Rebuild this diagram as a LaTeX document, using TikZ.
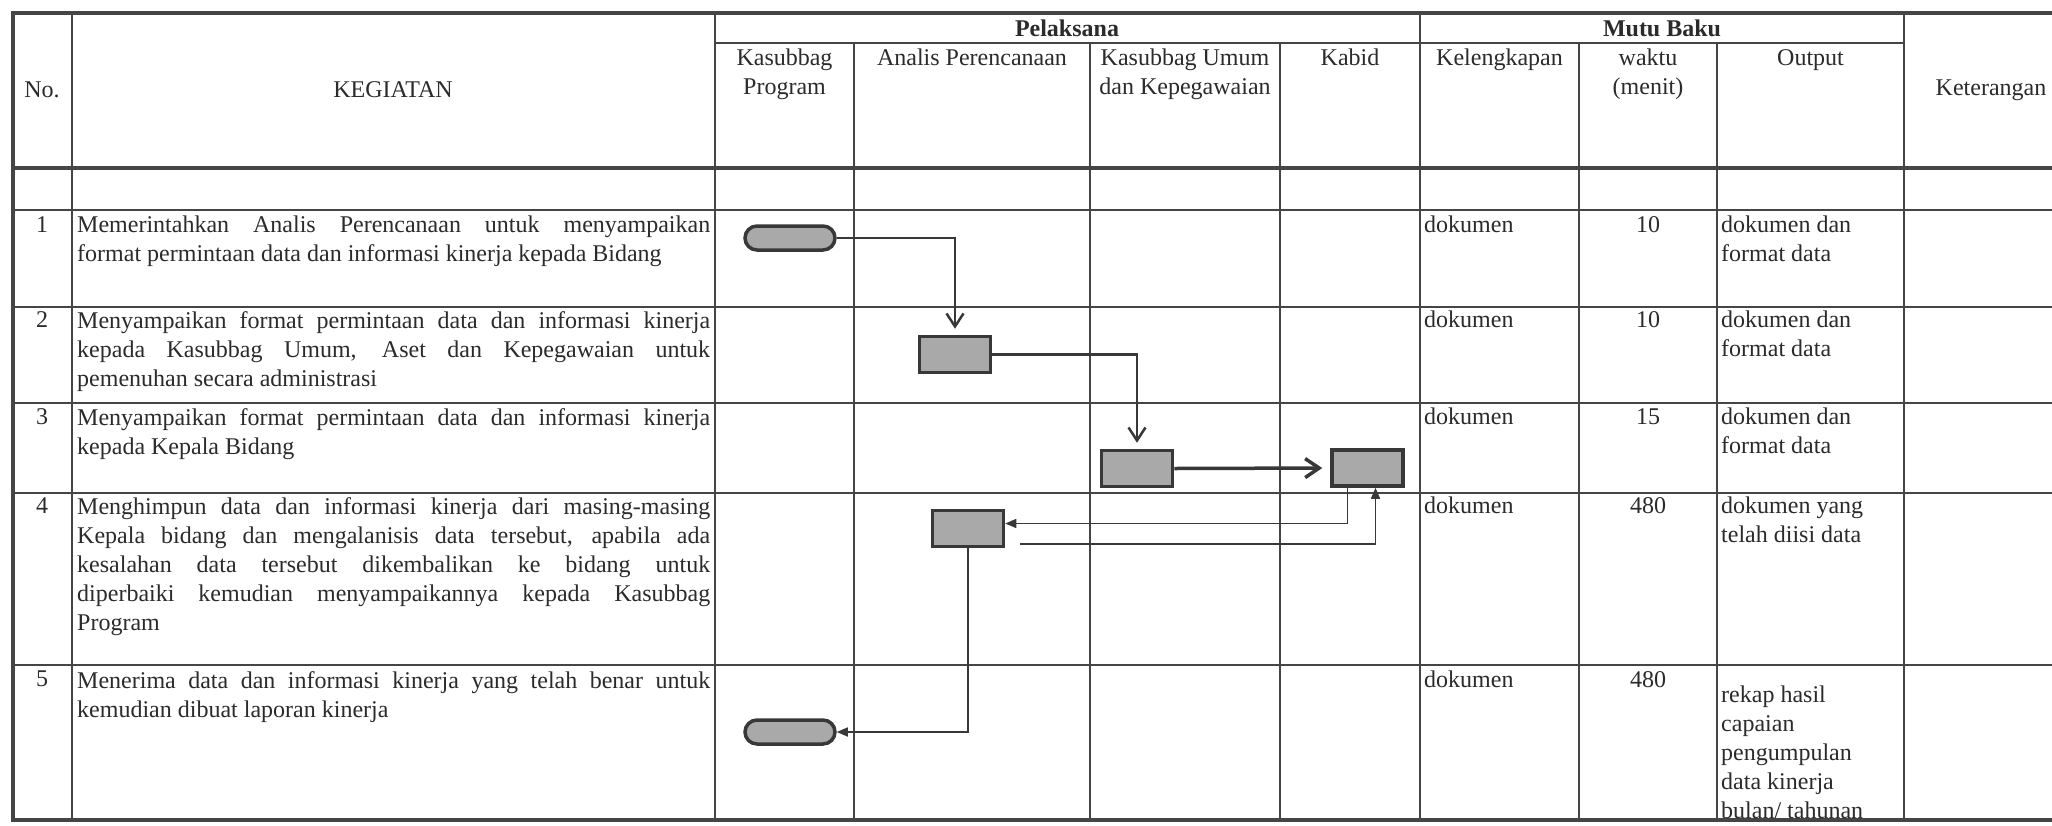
\documentclass[tikz,border=0pt]{standalone}
\usepackage{fontspec}
\setmainfont{Liberation Serif}
\usetikzlibrary{arrows.meta}
\definecolor{grid}{HTML}{454545}
\definecolor{ink}{HTML}{2B2B2B}
\definecolor{boxfill}{HTML}{A9A9A9}
\definecolor{boxline}{HTML}{383838}
\tolerance=10000 \hbadness=10000
\hyphenpenalty=10000 \exhyphenpenalty=10000
\parindent=0pt
\tikzset{
  tline/.style={draw=grid, line width=2pt},
  tthick/.style={draw=grid, line width=4pt},
  proc/.style={draw=boxline, fill=boxfill, line width=3.5pt, minimum width=71pt, minimum height=36pt},
  term/.style={draw=boxline, fill=boxfill, line width=3.5pt, minimum width=90pt, minimum height=24pt, rounded corners=12pt},
  flow/.style={draw=boxline, line width=2.5pt, -{Straight Barb[length=13pt,width=17pt]}, shorten >=6pt},
  retur/.style={draw=boxline, line width=1.5pt, -{Triangle[length=11pt,width=9pt]}},
  kegtext/.style={anchor=north west, text width=633pt, align=justify},
  celltext/.style={anchor=north west, align=left},
}

\begin{document}
\begin{tikzpicture}[x=1pt, y=-1pt,
  every node/.style={font=\fontsize{24}{29}\selectfont, text=ink, inner sep=0pt}]
  \fill[white] (0,0) rectangle (2052,825);
  \useasboundingbox (0,0) rectangle (2052,825);
  % Table rules
  \draw[tthick] (13,13) -- (2080,13);
  \draw[tline] (715,43) -- (1904,43);
  \draw[tthick] (13,168) -- (2080,168);
  \draw[tline] (13,210) -- (2080,210);
  \draw[tline] (13,307) -- (2080,307);
  \draw[tline] (13,403) -- (2080,403);
  \draw[tline] (13,493) -- (2080,493);
  \draw[tline] (13,665) -- (2080,665);
  \draw[tthick] (13,820) -- (2080,820);
  \draw[tthick] (13,11) -- (13,822);
  \draw[tline] (72,13) -- (72,820);
  \draw[tline] (715,13) -- (715,820);
  \draw[tline] (854,43) -- (854,820);
  \draw[tline] (1090,43) -- (1090,820);
  \draw[tline] (1280,43) -- (1280,820);
  \draw[tline] (1420,13) -- (1420,820);
  \draw[tline] (1579,43) -- (1579,820);
  \draw[tline] (1717,43) -- (1717,820);
  \draw[tline] (1904,13) -- (1904,820);
  % Header
  \node (no) at (42,90) {No.};
  \node (keg) at (393,90) {KEGIATAN};
  \node[font=\fontsize{24}{29}\selectfont\bfseries] (pel) at (1067,28) {Pelaksana};
  \node[font=\fontsize{24}{29}\selectfont\bfseries] (mutu) at (1662,28) {Mutu Baku};
  \node[anchor=north, align=center] (kp) at (784.5,49) {Kasubbag\\Program};
  \node[anchor=north, align=center] (ap) at (972,49) {Analis Perencanaan};
  \node[anchor=north, align=center] (ku) at (1185,49) {Kasubbag Umum\\dan Kepegawaian};
  \node[anchor=north, align=center] (kb) at (1350,49) {Kabid};
  \node[anchor=north, align=center] (kel) at (1499.5,49) {Kelengkapan};
  \node[anchor=north, align=center] (wkt) at (1648,49) {waktu\\(menit)};
  \node[anchor=north, align=center] (out) at (1810.5,49) {Output};
  \node (ket) at (1991,90) {Keterangan};
  % Row 1
  \node[anchor=north] (n1) at (42,216) {1};
  \node[kegtext] (k1) at (77,216) {Memerintahkan Analis Perencanaan untuk menyampaikan\linebreak format permintaan data dan informasi kinerja kepada Bidang};
  \node[celltext] (d1) at (1424,216) {dokumen};
  \node[anchor=north] (w1) at (1648,216) {10};
  \node[celltext] (o1) at (1721,216) {dokumen dan\\format data};
  % Row 2
  \node[anchor=north] (n2) at (42,311) {2};
  \node[kegtext] (k2) at (77,311) {Menyampaikan format permintaan data dan informasi kinerja\linebreak kepada Kasubbag Umum, Aset dan Kepegawaian untuk\linebreak pemenuhan secara administrasi};
  \node[celltext] (d2) at (1424,311) {dokumen};
  \node[anchor=north] (w2) at (1648,311) {10};
  \node[celltext] (o2) at (1721,311) {dokumen dan\\format data};
  % Row 3
  \node[anchor=north] (n3) at (42,408) {3};
  \node[kegtext] (k3) at (77,408) {Menyampaikan format permintaan data dan informasi kinerja\linebreak kepada Kepala Bidang};
  \node[celltext] (d3) at (1424,408) {dokumen};
  \node[anchor=north] (w3) at (1648,408) {15};
  \node[celltext] (o3) at (1721,408) {dokumen dan\\format data};
  % Row 4
  \node[anchor=north] (n4) at (42,497) {4};
  \node[kegtext] (k4) at (77,497) {Menghimpun data dan informasi kinerja dari masing-masing\linebreak Kepala bidang dan mengalanisis data tersebut, apabila ada\linebreak kesalahan data tersebut dikembalikan ke bidang untuk\linebreak diperbaiki kemudian menyampaikannya kepada Kasubbag\linebreak Program};
  \node[celltext] (d4) at (1424,497) {dokumen};
  \node[anchor=north] (w4) at (1648,497) {480};
  \node[celltext] (o4) at (1721,497) {dokumen yang\\telah diisi data};
  % Row 5
  \node[anchor=north] (n5) at (42,671) {5};
  \node[kegtext] (k5) at (77,671) {Menerima data dan informasi kinerja yang telah benar untuk\linebreak kemudian dibuat laporan kinerja};
  \node[celltext] (d5) at (1424,671) {dokumen};
  \node[anchor=north] (w5) at (1648,671) {480};
  \node[celltext] (o5) at (1721,686) {rekap hasil\\capaian\\pengumpulan\\data kinerja\\bulan/ tahunan};
  % Flow shapes
  \node[term] (mulai) at (790,238) {};
  \node[proc] (analis1) at (955,354.5) {};
  \node[proc] (umum) at (1137,468.5) {};
  \node[proc] (kabid) at (1367.5,468) {};
  \node[proc] (analis2) at (968,528.5) {};
  \node[term] (selesai) at (790,732) {};
  \coordinate (balik) at (1020,544);
  % Connectors
  \draw[flow] (mulai.east) -| (analis1.north);
  \draw[flow] (analis1.east) -| (umum.north);
  \draw[flow, line width=3.5pt, -{Straight Barb[length=14pt,width=19pt]}, shorten >=8pt] (umum.east) -- (kabid.west);
  \draw[retur] ([xshift=-20pt]kabid.south) |- ([yshift=5pt]analis2.east);
  \draw[retur] (balik) -| ([xshift=8pt]kabid.south);
  \draw[retur] (analis2.south) |- (selesai.east);
\end{tikzpicture}
\end{document}
